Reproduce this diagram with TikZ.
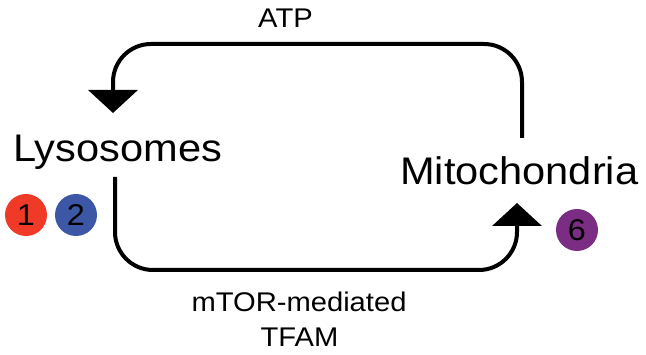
\documentclass[tikz,border=0pt]{standalone}
\usepackage{fontspec}
\setmainfont[FakeStretch=1.08]{Liberation Sans}
\usetikzlibrary{arrows.meta}

\definecolor{badgeRed}{HTML}{EE3A27}
\definecolor{badgeBlue}{HTML}{3C57A6}
\definecolor{badgePurple}{HTML}{7A2D82}

\tikzset{
  organelle/.style={inner sep=0pt, anchor=base west, font=\fontsize{38.5}{44}\selectfont},
  label/.style={inner sep=0pt, anchor=base, font=\fontsize{27}{33}\selectfont},
  badge/.style={circle, minimum size=42pt, inner sep=0pt, text=black,
                font=\fontsize{30}{34}\selectfont},
  flow/.style={line width=4pt, rounded corners=38pt,
               -{Triangle[width=49pt,length=23pt]}},
}

\begin{document}
\begin{tikzpicture}[x=1pt,y=-1pt]
  \useasboundingbox (0,0) rectangle (646,355);

  % organelle names
  \node[organelle] (lyso) at (13,162) {Lysosomes};
  \node[organelle] (mito) at (400,185) {Mitochondria};

  % pathway labels
  \node[label] (atp)  at (285.5,28) {ATP};
  \node[label] (mtor) at (299,312) {mTOR-mediated};
  \node[label] (tfam) at (299.5,347) {TFAM};

  % numbered badges
  \node[badge, fill=badgeRed]    (c1) at (26,215)  {1};
  \node[badge, fill=badgeBlue]   (c2) at (76,215)  {2};
  \node[badge, fill=badgePurple] (c6) at (577,230) {6};

  % loop end points
  \coordinate (mito-out) at (522,138);
  \coordinate (top-run)  at (300,44);
  \coordinate (lyso-in)  at (113,113);
  \coordinate (lyso-out) at (115,177);
  \coordinate (bot-run)  at (300,270);
  \coordinate (mito-in)  at (517,203);

  % mitochondria -> lysosomes (ATP)
  \draw[flow] (mito-out) |- (top-run) -| (lyso-in);
  % lysosomes -> mitochondria (mTOR-mediated TFAM)
  \draw[flow] (lyso-out) |- (bot-run) -| (mito-in);
\end{tikzpicture}
\end{document}
